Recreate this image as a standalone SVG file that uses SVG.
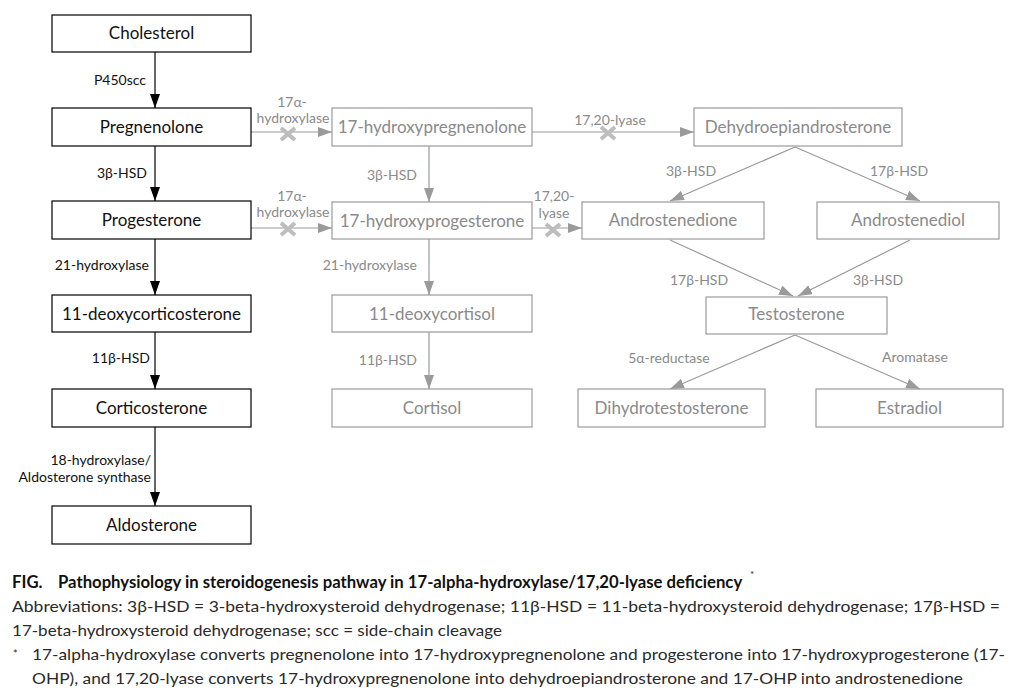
<svg xmlns="http://www.w3.org/2000/svg" width="1020" height="697" viewBox="0 0 1020 697">
<style>
.bb{fill:#fff;stroke:#000;stroke-width:1.2}
.gb{fill:#fff;stroke:#9a9a9a;stroke-width:1.2}
.bt{font-family:Lato,"Open Sans",sans-serif;font-size:17px;fill:#111;text-anchor:middle}
.gt{font-family:Lato,"Open Sans",sans-serif;font-size:17px;fill:#8a8a8a;text-anchor:middle}
.bl{font-family:Lato,"Open Sans",sans-serif;font-size:14px;fill:#111;text-anchor:end}
.gl{font-family:Lato,"Open Sans",sans-serif;font-size:14px;fill:#8a8a8a}
.bline{stroke:#000;stroke-width:1.2;fill:none}
.gline{stroke:#9a9a9a;stroke-width:1.2;fill:none}
.x{stroke:#bdbdbd;stroke-width:4}
.cap{font-family:Lato,"Open Sans",sans-serif;font-size:16px;fill:#2a2a2a}
</style>
<defs>
<marker id="ab" markerUnits="userSpaceOnUse" markerWidth="14" markerHeight="10" refX="14" refY="5" orient="auto"><path d="M0,0 L14,5 L0,10 z" fill="#000"/></marker>
<marker id="ag" markerUnits="userSpaceOnUse" markerWidth="14" markerHeight="10" refX="14" refY="5" orient="auto"><path d="M0,0 L14,5 L0,10 z" fill="#9a9a9a"/></marker>
</defs>
<rect width="1020" height="697" fill="#fff"/>
<g id="connectors">
<line class="bline" x1="155" y1="52" x2="155" y2="108" marker-end="url(#ab)"/>
<line class="bline" x1="155" y1="146" x2="155" y2="201" marker-end="url(#ab)"/>
<line class="bline" x1="155" y1="239" x2="155" y2="295" marker-end="url(#ab)"/>
<line class="bline" x1="155" y1="332" x2="155" y2="389" marker-end="url(#ab)"/>
<line class="bline" x1="155" y1="427" x2="155" y2="506" marker-end="url(#ab)"/>
<line class="gline" x1="429" y1="146" x2="429" y2="202" marker-end="url(#ag)"/>
<line class="gline" x1="429" y1="239" x2="429" y2="295" marker-end="url(#ag)"/>
<line class="gline" x1="429" y1="332" x2="429" y2="389" marker-end="url(#ag)"/>
<line class="gline" x1="251" y1="132" x2="332" y2="132" marker-end="url(#ag)"/>
<line class="gline" x1="251" y1="228" x2="332" y2="228" marker-end="url(#ag)"/>
<line class="gline" x1="532" y1="132" x2="694" y2="132" marker-end="url(#ag)"/>
<line class="gline" x1="532" y1="228" x2="582" y2="228" marker-end="url(#ag)"/>
<line class="gline" x1="795" y1="147" x2="670" y2="201" marker-end="url(#ag)"/>
<line class="gline" x1="795" y1="147" x2="920" y2="201" marker-end="url(#ag)"/>
<line class="gline" x1="670" y1="240" x2="793" y2="296" marker-end="url(#ag)"/>
<line class="gline" x1="910" y1="240" x2="798" y2="296" marker-end="url(#ag)"/>
<line class="gline" x1="795" y1="335" x2="670" y2="389" marker-end="url(#ag)"/>
<line class="gline" x1="795" y1="335" x2="920" y2="389" marker-end="url(#ag)"/>
<g class="x">
<path d="M281,128 L295,140 M295,128 L281,140"/>
<path d="M281,223 L295,235 M295,223 L281,235"/>
<path d="M601,127 L615,139 M615,127 L601,139"/>
<path d="M546,224 L560,236 M560,224 L546,236"/>
</g>
<text class="bl" x="146" y="85">P450scc</text>
<text class="bl" x="147" y="178">3β-HSD</text>
<text class="bl" x="149" y="270">21-hydroxylase</text>
<text class="bl" x="150" y="363">11β-HSD</text>
<text class="bl" x="151" y="465">18-hydroxylase/</text>
<text class="bl" x="151" y="482">Aldosterone synthase</text>
<text class="gl" x="292" y="107" text-anchor="middle">17α-</text>
<text class="gl" x="293" y="123" text-anchor="middle">hydroxylase</text>
<text class="gl" x="292" y="201" text-anchor="middle">17α-</text>
<text class="gl" x="293" y="217" text-anchor="middle">hydroxylase</text>
<text class="gl" x="610" y="125" text-anchor="middle">17,20-lyase</text>
<text class="gl" x="554" y="201" text-anchor="middle">17,20-</text>
<text class="gl" x="554" y="218" text-anchor="middle">lyase</text>
<text class="gl" x="417" y="180" text-anchor="end">3β-HSD</text>
<text class="gl" x="417" y="270" text-anchor="end">21-hydroxylase</text>
<text class="gl" x="417" y="365" text-anchor="end">11β-HSD</text>
<text class="gl" x="691" y="176" text-anchor="middle">3β-HSD</text>
<text class="gl" x="899" y="176" text-anchor="middle">17β-HSD</text>
<text class="gl" x="699" y="285" text-anchor="middle">17β-HSD</text>
<text class="gl" x="878" y="285" text-anchor="middle">3β-HSD</text>
<text class="gl" x="669" y="363" text-anchor="middle">5α-reductase</text>
<text class="gl" x="915" y="362" text-anchor="middle">Aromatase</text>
</g>
<g id="cholesterol"><rect class="bb" x="52" y="15" width="199" height="37"/><text class="bt" x="151.5" y="39">Cholesterol</text></g>
<g id="pregnenolone"><rect class="bb" x="52" y="108" width="199" height="38"/><text class="bt" x="151.5" y="133">Pregnenolone</text></g>
<g id="progesterone"><rect class="bb" x="52" y="201" width="199" height="38"/><text class="bt" x="151.5" y="226">Progesterone</text></g>
<g id="deoxycorticosterone"><rect class="bb" x="52" y="295" width="199" height="37"/><text class="bt" x="151.5" y="320">11-deoxycorticosterone</text></g>
<g id="corticosterone"><rect class="bb" x="52" y="389" width="199" height="38"/><text class="bt" x="151.5" y="414">Corticosterone</text></g>
<g id="aldosterone"><rect class="bb" x="52" y="506" width="199" height="38"/><text class="bt" x="151.5" y="531">Aldosterone</text></g>
<g id="hydroxypregnenolone"><rect class="gb" x="332" y="108" width="200" height="38"/><text class="gt" x="432" y="133">17-hydroxypregnenolone</text></g>
<g id="hydroxyprogesterone"><rect class="gb" x="332" y="202" width="200" height="37"/><text class="gt" x="432" y="227">17-hydroxyprogesterone</text></g>
<g id="deoxycortisol"><rect class="gb" x="332" y="295" width="200" height="37"/><text class="gt" x="432" y="320">11-deoxycortisol</text></g>
<g id="cortisol"><rect class="gb" x="332" y="389" width="200" height="38"/><text class="gt" x="432" y="414">Cortisol</text></g>
<g id="dhea"><rect class="gb" x="694" y="108" width="208" height="38"/><text class="gt" x="798" y="133">Dehydroepiandrosterone</text></g>
<g id="androstenedione"><rect class="gb" x="582" y="202" width="182" height="37"/><text class="gt" x="673" y="226">Androstenedione</text></g>
<g id="androstenediol"><rect class="gb" x="817" y="202" width="182" height="37"/><text class="gt" x="908" y="226">Androstenediol</text></g>
<g id="testosterone"><rect class="gb" x="706" y="297" width="181" height="37"/><text class="gt" x="796.5" y="320">Testosterone</text></g>
<g id="dht"><rect class="gb" x="578" y="389" width="187" height="38"/><text class="gt" x="671.5" y="414">Dihydrotestosterone</text></g>
<g id="estradiol"><rect class="gb" x="816" y="389" width="187" height="38"/><text class="gt" x="909.5" y="414">Estradiol</text></g>
<g id="caption">
<text class="cap" x="12" y="588" style="font-weight:bold;font-size:16.7px;fill:#111"><tspan>FIG.</tspan><tspan x="58">Pathophysiology in steroidogenesis pathway in 17-alpha-hydroxylase/17,20-lyase deficiency</tspan></text>
<text class="cap" x="750" y="578" style="font-size:10px">*</text>
<text class="cap" x="12" y="612" textLength="988" lengthAdjust="spacingAndGlyphs">Abbreviations: 3β-HSD = 3-beta-hydroxysteroid dehydrogenase; 11β-HSD = 11-beta-hydroxysteroid dehydrogenase; 17β-HSD =</text>
<text class="cap" x="12" y="636" textLength="490" lengthAdjust="spacingAndGlyphs">17-beta-hydroxysteroid dehydrogenase; scc = side-chain cleavage</text>
<text class="cap" x="13" y="658" style="font-size:11px">*</text>
<text class="cap" x="32" y="660" textLength="973" lengthAdjust="spacingAndGlyphs">17-alpha-hydroxylase converts pregnenolone into 17-hydroxypregnenolone and progesterone into 17-hydroxyprogesterone (17-</text>
<text class="cap" x="32" y="684" textLength="931" lengthAdjust="spacingAndGlyphs">OHP), and 17,20-lyase converts 17-hydroxypregnenolone into dehydroepiandrosterone and 17-OHP into androstenedione</text>
</g>
</svg>
